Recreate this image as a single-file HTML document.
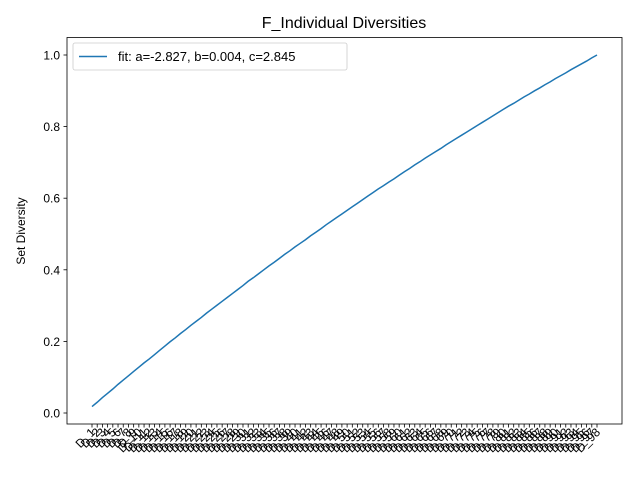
<!DOCTYPE html>
<html><head><meta charset="utf-8"><style>body{margin:0;background:#fff}svg{display:block;font-family:"Liberation Sans",sans-serif}</style></head>
<body>
<svg id="chart" width="640" height="480">
<rect x="0" y="0" width="640" height="480" fill="#fff"/>
<text x="344" y="28" font-size="16" text-anchor="middle">F_Individual Diversities</text>
<text transform="translate(25,231) rotate(-90)" font-size="12" text-anchor="middle">Set Diversity</text>
<g id="yticks"></g><g id="xticks"></g>
<polyline id="line" fill="none" stroke="#1f77b4" stroke-width="1.5"/>
<rect x="67" y="37.5" width="555" height="386.5" fill="none" stroke="#000" stroke-width="0.8"/>
<g>
<rect x="73" y="43" width="274" height="27" rx="2" fill="#fff" stroke="#ccc" stroke-width="0.8"/>
<line x1="79" y1="56.5" x2="107" y2="56.5" stroke="#1f77b4" stroke-width="1.5"/>
<text x="118" y="61" font-size="13">fit: a=-2.827, b=0.004, c=2.845</text>
</g>
</svg>
<script>
const yValues=[.018,.030,.043,.055,.067,.080,.092,.104,.116,.128,.140,.151,.163,.175,.187,.199,.210,.222,.233,.245,.256,.267,.279,.290,.301,.312,.323,.334,.345,.356,.368,.378,.389,.400,.411,.421,.432,.443,.453,.464,.474,.484,.495,.505,.515,.526,.536,.546,.556,.566,.576,.586,.596,.606,.616,.626,.635,.645,.654,.664,.674,.683,.693,.702,.712,.721,.730,.739,.749,.758,.767,.776,.785,.794,.803,.812,.821,.830,.839,.848,.857,.865,.874,.883,.891,.900,.908,.917,.925,.934,.942,.950,.959,.967,.975,.983,.992,1.000];
const categories=yValues.map((v,i)=>'D_'+(i+1));
const yTicks=[0,0.2,0.4,0.6,0.8,1.0];
const yTickLabels=['0.0','0.2','0.4','0.6','0.8','1.0'];
const NS='http://www.w3.org/2000/svg';
const n=categories.length;
function xs(i){return 92+i*(597-92)/(n-1);}
function ys(v){return 413-v*358;}
const yg=document.getElementById('yticks');
yTicks.forEach((t,k)=>{
 const l=document.createElementNS(NS,'line');
 l.setAttribute('x1',63.5);l.setAttribute('x2',67);l.setAttribute('y1',ys(t));l.setAttribute('y2',ys(t));l.setAttribute('stroke','#000');l.setAttribute('stroke-width','0.8');
 
 
 yg.appendChild(l);
 const tx=document.createElementNS(NS,'text');
 tx.setAttribute('x',60);tx.setAttribute('y',ys(t)+4.5);tx.setAttribute('font-size','12');tx.setAttribute('text-anchor','end');
 tx.textContent=yTickLabels[k];
 
 
 yg.appendChild(tx);
});
const xg=document.getElementById('xticks');
categories.forEach((c,i)=>{
 const x=xs(i);
 const l=document.createElementNS(NS,'line');
 l.setAttribute('x1',x);l.setAttribute('x2',x);l.setAttribute('y1',424);l.setAttribute('y2',427.5);l.setAttribute('stroke','#000');l.setAttribute('stroke-width','0.8');
 
 
 xg.appendChild(l);
 const tx=document.createElementNS(NS,'text');
 tx.setAttribute('transform','translate('+(x+4)+',433) rotate(-45)');
 tx.setAttribute('font-size','12');tx.setAttribute('text-anchor','end');
 tx.textContent=c;
 
 
 xg.appendChild(tx);
});
document.getElementById('line').setAttribute('points',yValues.map((v,i)=>xs(i)+','+ys(v)).join(' '));
</script>
</body></html>
